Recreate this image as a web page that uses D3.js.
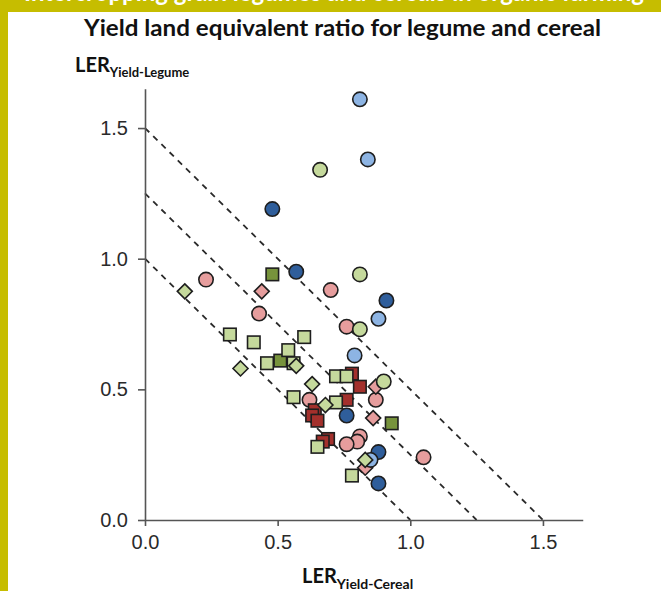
<!DOCTYPE html>
<html>
<head>
<meta charset="utf-8">
<script src="https://cdn.jsdelivr.net/npm/d3@7"></script>
<style>
  html, body { margin: 0; padding: 0; background: #ffffff; }
  svg { display: block; }
</style>
</head>
<body>
<svg id="chart" width="661" height="591"></svg>
<script>
// ---- data ----
const titleText = "Yield land equivalent ratio for legume and cereal";
const bannerText = "Intercropping grain legumes and cereals in organic farming";
const xTicks = [0.0, 0.5, 1.0, 1.5];
const yTicks = [0.0, 0.5, 1.0, 1.5];
const lerLines = [1.0, 1.25, 1.5];

// [LER cereal, LER legume]
const pinkCircles = [[0.23,0.92],[0.70,0.88],[0.43,0.79],[0.76,0.74],[0.62,0.46],[0.87,0.46],[0.81,0.32],[0.80,0.30],[0.76,0.29],[1.05,0.24]];
const pinkDiamonds = [[0.44,0.875],[0.87,0.51],[0.86,0.39],[0.83,0.20]];
const darkBlueCircles = [[0.48,1.19],[0.57,0.95],[0.91,0.84],[0.76,0.40],[0.88,0.26],[0.88,0.14]];
const lightBlueCircles = [[0.81,1.61],[0.84,1.38],[0.88,0.77],[0.79,0.63],[0.85,0.23]];
const lightGreenCircles = [[0.66,1.34],[0.81,0.94],[0.81,0.73],[0.90,0.53]];
const darkRedSquares = [[0.78,0.56],[0.81,0.51],[0.76,0.46],[0.64,0.42],[0.63,0.40],[0.65,0.38],[0.69,0.31],[0.67,0.30]];
const darkGreenSquares = [[0.48,0.94],[0.51,0.61],[0.93,0.37]];
const lightGreenSquares = [[0.32,0.71],[0.41,0.68],[0.60,0.70],[0.54,0.65],[0.46,0.60],[0.56,0.60],[0.56,0.47],[0.72,0.55],[0.76,0.55],[0.72,0.45],[0.65,0.28],[0.78,0.17]];
const lightGreenDiamonds = [[0.15,0.875],[0.36,0.58],[0.57,0.59],[0.63,0.52],[0.68,0.44],[0.83,0.23]];

// ---- layout ----
const svg = d3.select("#chart");
const W = 661, H = 591;
const x = d3.scaleLinear().domain([0, 1.65]).range([145, 145 + 1.65 * 265.3]);
const y = d3.scaleLinear().domain([0, 1.65]).range([520, 520 - 1.65 * 261.3]);

// background & frame
svg.append("rect").attr("x",0).attr("y",0).attr("width",W).attr("height",H).attr("fill","#ffffff");
svg.append("rect").attr("x",0).attr("y",0).attr("width",W).attr("height",12).attr("fill","#c6bd00");
svg.append("rect").attr("x",0).attr("y",0).attr("width",8).attr("height",H).attr("fill","#c6bd00");
svg.append("clipPath").attr("id","bannerClip").append("rect").attr("x",0).attr("y",0).attr("width",W).attr("height",12);
svg.append("text").attr("clip-path","url(#bannerClip)")
  .attr("x", 24).attr("y", 1)
  .attr("font-family","Lato, 'Open Sans', sans-serif").attr("font-weight","bold").attr("font-size", 26)
  .attr("fill","#ffffff").attr("textLength", 620).attr("lengthAdjust","spacingAndGlyphs")
  .text(bannerText);

// title
svg.append("text").attr("x", 84).attr("y", 36)
  .attr("font-family","Lato, 'Open Sans', sans-serif").attr("font-weight","bold").attr("font-size", 22)
  .attr("fill","#111").attr("textLength", 517).attr("lengthAdjust","spacingAndGlyphs")
  .text(titleText);

// y axis label
const yl = svg.append("text").attr("x", 75).attr("y", 72)
  .attr("font-family","Lato, 'Open Sans', sans-serif").attr("font-weight","bold").attr("fill","#111");
yl.append("tspan").attr("font-size", 20).text("LER");
yl.append("tspan").attr("font-size", 13).attr("dy", 5).text("Yield-Legume");

// x axis label
const xl = svg.append("text").attr("x", 302).attr("y", 583)
  .attr("font-family","Lato, 'Open Sans', sans-serif").attr("font-weight","bold").attr("fill","#111");
xl.append("tspan").attr("font-size", 20).text("LER");
xl.append("tspan").attr("font-size", 14).attr("dy", 6).text("Yield-Cereal");

// dashed LER iso-lines
svg.append("g").selectAll("line").data(lerLines).join("line")
  .attr("x1", x(0)).attr("y1", d => y(d))
  .attr("x2", d => x(d)).attr("y2", y(0))
  .attr("stroke", "#2a2a2a").attr("stroke-width", 1.8).attr("stroke-dasharray", "6,5.5");

// axes
const fmt = d3.format(".1f");
const gx = svg.append("g").attr("transform", `translate(0,${y(0)})`)
  .call(d3.axisBottom(x).tickValues(xTicks).tickFormat(fmt).tickSizeInner(6).tickSizeOuter(0).tickPadding(9));
const gy = svg.append("g").attr("transform", `translate(${x(0)},0)`)
  .call(d3.axisLeft(y).tickValues(yTicks).tickFormat(fmt).tickSizeInner(7).tickSizeOuter(0).tickPadding(10));
[gx, gy].forEach(g => {
  g.select(".domain").attr("stroke", "#555").attr("stroke-width", 1.6);
  g.selectAll(".tick line").attr("stroke", "#555").attr("stroke-width", 1.6);
  g.selectAll(".tick text").attr("font-family", "'Liberation Sans', Arial, sans-serif")
    .attr("font-size", 20).attr("fill", "#2a2a2a");
});

// markers
const stroke = "#1e1e1e", sw = 1.6;
function circles(data, fill) {
  svg.append("g").selectAll("circle").data(data).join("circle")
    .attr("cx", d => x(d[0])).attr("cy", d => y(d[1])).attr("r", 7.2)
    .attr("fill", fill).attr("stroke", stroke).attr("stroke-width", sw);
}
function squares(data, fill) {
  const s = 12.5;
  svg.append("g").selectAll("rect").data(data).join("rect")
    .attr("x", d => x(d[0]) - s/2).attr("y", d => y(d[1]) - s/2)
    .attr("width", s).attr("height", s)
    .attr("fill", fill).attr("stroke", stroke).attr("stroke-width", sw);
}
function diamonds(data, fill) {
  const r = 7.5;
  svg.append("g").selectAll("path").data(data).join("path")
    .attr("d", d => {
      const cx = x(d[0]), cy = y(d[1]);
      return `M${cx},${cy-r}L${cx+r},${cy}L${cx},${cy+r}L${cx-r},${cy}Z`;
    })
    .attr("fill", fill).attr("stroke", stroke).attr("stroke-width", sw);
}

circles(pinkCircles, "#e69d9d");
diamonds(pinkDiamonds, "#e69d9d");
circles(darkBlueCircles, "#2f5e9b");
circles(lightBlueCircles, "#8db4e3");
circles(lightGreenCircles, "#c5d99c");
squares(darkRedSquares, "#a3302c");
squares(darkGreenSquares, "#77933c");
squares(lightGreenSquares, "#c5d99c");
diamonds(lightGreenDiamonds, "#c5d99c");
</script>
</body>
</html>
